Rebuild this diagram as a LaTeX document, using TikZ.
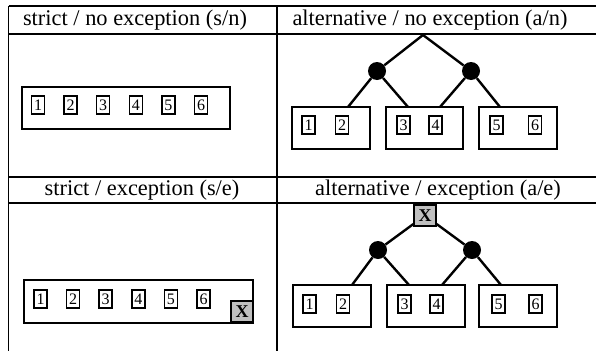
\documentclass[tikz,border=0pt]{standalone}
\usepackage{fontspec}
\setmainfont{Liberation Serif}
\usetikzlibrary{calc}

\tikzset{
    hdr/.style={font=\fontsize{22.4}{24}\selectfont, inner sep=0pt},
    group/.style={draw, line width=2.6pt, minimum width=#1, minimum height=42pt, inner sep=0pt},
    num/.style={draw, line width=1.5pt, minimum width=13pt, minimum height=18pt, inner sep=0pt, font=\fontsize{16}{17}\selectfont},
    alt/.style={circle, fill=black, minimum size=18pt, inner sep=0pt},
    exc/.style={draw, line width=1.5pt, fill=black!25, minimum width=22pt, minimum height=21pt, inner sep=0pt, font=\bfseries\fontsize{18}{19}\selectfont},
}

\begin{document}
\begin{tikzpicture}[x=1pt, y=-1pt]
    \useasboundingbox (0,0) rectangle (596,351);

    % table
    \draw[line width=1.8pt] (8.5,6) -- (596,6) (8.5,34) -- (596,34)
        (8.5,177) -- (596,177) (8.5,203) -- (596,203)
        (8.5,6) -- (8.5,351) (277,6) -- (277,351);

    \node[hdr] (hsn) at (135, 20) {strict / no exception (s/n)};
    \node[hdr] (han) at (430, 20) {alternative / no exception (a/n)};
    \node[hdr] (hse) at (142, 190) {strict / exception (s/e)};
    \node[hdr] (hae) at (438, 190) {alternative / exception (a/e)};

    % s/n
    \node[group=208pt] (SN) at (126, 108) {};
    \foreach \i in {1,...,6}
        \node[num] (sn\i) at ({38+32.6*(\i-1)}, 105) {\i};

    % s/e
    \node[group=229pt, minimum height=43pt] (SE) at (138.5, 301.5) {};
    \foreach \i in {1,...,6}
        \node[num] (se\i) at ({40.5+32.6*(\i-1)}, 299) {\i};
    \node[exc] (SEX) at (242, 311.5) {X};

    % a/n
    \node[group=78pt] (AN1) at (331, 128) {};
    \node[group=77pt] (AN2) at (424.5, 128) {};
    \node[group=78pt] (AN3) at (518, 128) {};
    \node[num] (an1) at (308.5, 125) {1};
    \node[num] (an2) at (342, 125) {2};
    \node[num] (an3) at (403.5, 125) {3};
    \node[num] (an4) at (435.5, 125) {4};
    \node[num] (an5) at (496.5, 125) {5};
    \node[num] (an6) at (535, 125) {6};
    \node[alt] (ANL) at (377, 71) {};
    \node[alt] (ANR) at (471, 71) {};
    \coordinate (ANtop) at (423, 35);
    \coordinate (AN1t) at (348, 107);
    \coordinate (AN2l) at (408, 107);
    \coordinate (AN2r) at (440, 107);
    \coordinate (AN3t) at (500, 107);
    \path[line width=2.4pt]
    (ANtop) edge (ANL)
    (ANtop) edge (ANR)
    (ANL) edge (AN1t)
    (ANL) edge (AN2l)
    (ANR) edge (AN2r)
    (ANR) edge (AN3t);

    % a/e
    \node[group=78pt] (AE1) at (332, 306) {};
    \node[group=78pt] (AE2) at (426, 306) {};
    \node[group=78pt] (AE3) at (518, 306) {};
    \node[num] (ae1) at (309.5, 304) {1};
    \node[num] (ae2) at (343, 304) {2};
    \node[num] (ae3) at (404.5, 304) {3};
    \node[num] (ae4) at (436.5, 304) {4};
    \node[num] (ae5) at (498.5, 304) {5};
    \node[num] (ae6) at (535.5, 304) {6};
    \node[alt] (AEL) at (378, 250) {};
    \node[alt] (AER) at (472, 250) {};
    \node[exc] (AEX) at (425, 215.5) {X};
    \coordinate (AE1t) at (352, 285);
    \coordinate (AE2l) at (409, 285);
    \coordinate (AE2r) at (442, 285);
    \coordinate (AE3t) at (501, 285);
    \path[line width=2.4pt]
    (AEX) edge (AEL)
    (AEX) edge (AER)
    (AEL) edge (AE1t)
    (AEL) edge (AE2l)
    (AER) edge (AE2r)
    (AER) edge (AE3t);
\end{tikzpicture}
\end{document}
